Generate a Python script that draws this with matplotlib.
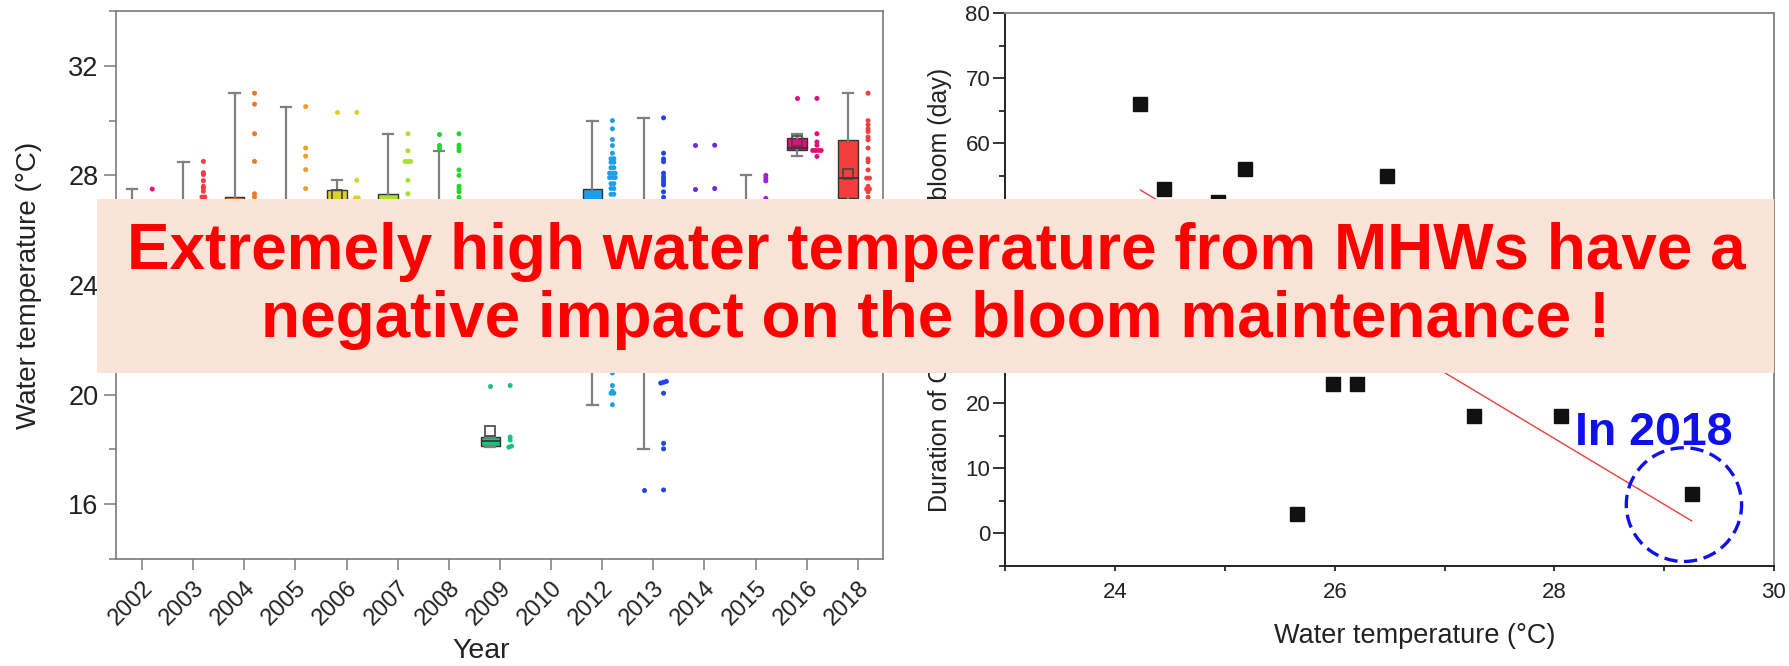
import numpy as np
import matplotlib
matplotlib.use("Agg")
import matplotlib.pyplot as plt
from matplotlib.patches import Rectangle, Ellipse
from matplotlib.ticker import MultipleLocator

plt.rcParams['font.family'] = ['Liberation Sans', 'DejaVu Sans']

# ---- left panel: water temperature per bloom year ----
years = ['2002', '2003', '2004', '2005', '2006', '2007', '2008', '2009',
         '2010', '2012', '2013', '2014', '2015', '2016', '2018']
colors = ['#E8137E', '#F53A45', '#F07820', '#E8A02A', '#DCD02A', '#A6E22E',
          '#22D62A', '#19C27D', '#18C8C0', '#1AA0EE', '#2244F0', '#6A2AE0',
          '#A020D8', '#E0107A', '#F43E3E']
whislo = [21.8, 22.5, 21.5, 22.0, 22.8, 22.5, 22.0, 18.08, 21.5, 19.63, 18.02, 23.0, 23.2, 28.69, 24.8]
q1 =     [23.8, 24.5, 23.9, 24.2, 25.0, 24.8, 24.5, 18.12, 23.0, 23.5, 22.4, 24.0, 24.5, 28.91, 27.19]
med =    [25.0, 25.8, 25.4, 25.5, 26.3, 26.0, 25.6, 18.30, 24.2, 25.6, 24.8, 24.8, 25.5, 28.99, 27.92]
q3 =     [26.4, 26.8, 27.22, 26.6, 27.48, 27.31, 26.9, 18.45, 25.2, 27.5, 26.8, 25.6, 26.3, 29.37, 29.30]
whishi = [27.5, 28.5, 31.0, 30.5, 27.82, 29.52, 28.9, 18.45, 26.5, 30.0, 30.1, 26.4, 28.0, 29.52, 31.0]
means =  [25.0, 25.7, 25.9, 25.8, 27.27, 26.3, 25.9, 18.67, 24.1, 25.4, 24.5, 25.4, 25.5, 29.25, 28.06]
fliers = [[], [], [], [], [30.3], [], [29.52, 29.1, 29.0], [20.33], [], [],
          [16.52], [29.1, 27.52], [], [30.81], []]

temps = [
    [27.5, 26.3, 25.6, 25.0, 24.4, 23.8, 22.9, 21.8],
    [28.51, 28.10, 28.03, 27.81, 27.60, 27.52, 27.42, 27.21, 27.21,
     26.8, 26.2, 25.8, 25.3, 24.5, 23.6, 22.5],
    [31.0, 30.6, 29.52, 28.51, 27.33, 27.21, 26.5, 25.4, 24.2, 23.0, 21.5],
    [30.51, 29.0, 28.70, 28.21, 27.52, 26.6, 25.5, 24.2, 22.0],
    [30.3, 27.82, 27.18, 27.18, 27.0, 26.3, 25.0, 22.8],
    [29.52, 28.9, 28.51, 28.51, 28.51, 27.82, 27.33, 26.9, 26.0, 24.8, 22.5],
    [29.52, 29.1, 29.0, 28.9, 28.2, 28.0, 27.6, 27.5, 27.4, 27.2,
     26.9, 26.1, 25.6, 24.5, 22.0],
    [20.33, 18.45, 18.34, 18.08, 18.12],
    [26.5, 25.2, 24.6, 24.2, 23.6, 23.0, 21.5],
    [30.0, 29.7, 29.31, 29.09, 28.81, 28.61, 28.61, 28.48, 28.48, 28.28, 28.28,
     28.08, 28.08, 28.08, 27.92, 27.92, 27.92, 27.7, 27.7, 27.52, 27.52, 27.31,
     27.31, 26.8, 26.0, 25.6, 24.9, 24.1, 23.5, 22.6, 21.8,
     20.79, 20.33, 20.12, 20.05, 20.05, 19.63],
    [30.1, 28.81, 28.6, 28.5, 28.08, 27.95, 27.85, 27.75, 27.65, 27.4, 27.2,
     26.8, 25.9, 24.8, 23.7, 22.4, 21.2,
     20.48, 20.45, 20.42, 20.05, 18.22, 18.02, 16.52],
    [29.1, 27.52, 26.4, 25.6, 24.8, 24.0, 23.0],
    [28.0, 27.9, 27.8, 27.16, 26.3, 25.5, 24.5, 23.2],
    [30.81, 29.52, 29.22, 29.1, 28.91, 28.91, 28.91, 28.91, 28.69],
    [31.0, 30.0, 29.85, 29.7, 29.6, 29.4, 29.3, 29.0, 28.6, 28.5, 28.2, 27.9,
     27.9, 27.6, 27.5, 27.5, 27.4, 27.2, 26.9, 26.2, 25.6, 24.8],
]

# ---- right panel: bloom duration vs water temperature ----
wt = [24.23, 24.44, 24.94, 25.18, 26.48, 25.98, 26.20, 25.66, 27.27, 28.06, 29.25]
duration = [66, 53, 51, 56, 55, 23, 23, 3, 18, 18, 6]
fit_x = [24.23, 29.25]
fit_y = [52.8, 1.9]


def spread(vals, center=0.2, step=0.055, tol=0.07):
    # side-by-side placement of near-equal values
    vals = np.asarray(vals, dtype=float)
    order = np.argsort(vals)
    offs = np.full(len(vals), center)
    groups, cur = [], [order[0]]
    for j in order[1:]:
        if vals[j] - vals[cur[-1]] <= tol:
            cur.append(j)
        else:
            groups.append(cur)
            cur = [j]
    groups.append(cur)
    for g in groups:
        n = len(g)
        for k, j in enumerate(g):
            offs[j] = center + (k - (n - 1) / 2) * step
    return offs


fig = plt.figure(figsize=(17.89, 6.66), dpi=100)
ax1 = fig.add_axes([0.0651, 0.1607, 0.4287, 0.8228])
ax2 = fig.add_axes([0.5620, 0.1506, 0.4296, 0.8294])

for i, y in enumerate(years):
    st = dict(whislo=whislo[i], q1=q1[i], med=med[i], q3=q3[i], whishi=whishi[i],
              mean=means[i], fliers=fliers[i], label=y)
    ax1.bxp([st], positions=[i - 0.19], widths=0.38, patch_artist=True,
            showmeans=True, showfliers=True, capwidths=0.2,
            boxprops=dict(facecolor=colors[i], edgecolor='#333333', linewidth=1.0),
            medianprops=dict(color='#333333', linewidth=1.2),
            whiskerprops=dict(color='#808080', linewidth=1.6),
            capprops=dict(color='#808080', linewidth=1.6),
            meanprops=dict(marker='s', markerfacecolor='none', markeredgecolor='#444444',
                           markersize=7, markeredgewidth=1.2),
            flierprops=dict(marker='o', markerfacecolor=colors[i], markeredgecolor='none',
                            markersize=3.6))
    offs = spread(temps[i])
    ax1.scatter(i + offs, temps[i], s=13, color=colors[i], edgecolors='none', zorder=3)

ax1.set_xlim(-0.5, len(years) - 0.5)
ax1.set_ylim(14, 34)
ax1.set_xticks(range(len(years)))
ax1.set_xticklabels(years, rotation=45, ha='right', va='top', rotation_mode='anchor')
ax1.set_yticks([16, 20, 24, 28, 32])
ax1.yaxis.set_minor_locator(MultipleLocator(2))
for s in ax1.spines.values():
    s.set_color('#7a7a7a')
    s.set_linewidth(1.2)
ax1.tick_params(axis='y', which='major', length=8.4, width=1.1, color='#7a7a7a',
                labelsize=19.5, pad=4.5, labelcolor='#222222')
ax1.tick_params(axis='y', which='minor', length=5, width=1.1, color='#7a7a7a')
ax1.tick_params(axis='x', length=8, width=1.1, color='#7a7a7a', labelsize=17,
                pad=5, labelcolor='#222222')
ax1.set_ylabel('Water temperature (°C)', fontsize=20, color='#222222')
ax1.yaxis.set_label_coords(-0.097, 0.5)
ax1.set_xlabel('Year', fontsize=20.5, color='#222222', va='baseline')
ax1.xaxis.set_label_coords(0.476, -0.181)

# right panel
ax2.plot(fit_x, fit_y, color='#F03C3C', linewidth=1.0, zorder=2)
ax2.plot(wt, duration, linestyle='none', marker='s', markersize=9.5,
         color='#111111', zorder=3)
ax2.add_patch(Ellipse((29.18, 4.4), width=1.05, height=17.5, fill=False,
                      edgecolor='#1010E8', linewidth=2.4, linestyle=(0, (4, 2)), zorder=4))
ax2.text(28.19, 13.6, 'In 2018', color='#1010E8', fontsize=33.5, fontweight='bold',
         va='baseline', ha='left', zorder=5)
ax2.set_xlim(23, 30)
ax2.set_ylim(-5, 80)
ax2.set_xticks([24, 26, 28, 30])
ax2.xaxis.set_minor_locator(MultipleLocator(1))
ax2.set_yticks([0, 10, 20, 30, 40, 50, 60, 70, 80])
ax2.yaxis.set_minor_locator(MultipleLocator(5))
ax2.spines['left'].set_color('#222222')
ax2.spines['bottom'].set_color('#222222')
ax2.spines['top'].set_color('#8a8a8a')
ax2.spines['right'].set_color('#8a8a8a')
for s in ax2.spines.values():
    s.set_linewidth(1.4)
ax2.tick_params(axis='y', which='major', length=9, width=1.1, labelsize=16, pad=2,
                labelcolor='#222222')
ax2.tick_params(axis='y', which='minor', length=4.3, width=1.1)
ax2.tick_params(axis='x', which='both', length=3.6, width=1.1, labelsize=16, pad=8,
                labelcolor='#222222')
ax2.set_xlabel('Water temperature (°C)', fontsize=19.5, color='#222222')
ax2.xaxis.set_label_coords(0.532, -0.104)
ax2.set_ylabel('Duration of C. polykrikoides bloom (day)', fontsize=18, color='#222222')
ax2.yaxis.set_label_coords(-0.0696, 0.5)

# overlay banner
fig.patches.append(Rectangle((0.0542, 0.4395), 0.9374, 0.2617, transform=fig.transFigure,
                             facecolor='#F9E4D7', edgecolor='none', zorder=10))
fig.text(0.5232, 0.5706,
         'Extremely high water temperature from MHWs have a\nnegative impact on the bloom maintenance !',
         ha='center', va='center', color='#FF0000', fontsize=46, fontweight='bold',
         linespacing=1.17, zorder=11)

fig.savefig('out.png', dpi=100)
